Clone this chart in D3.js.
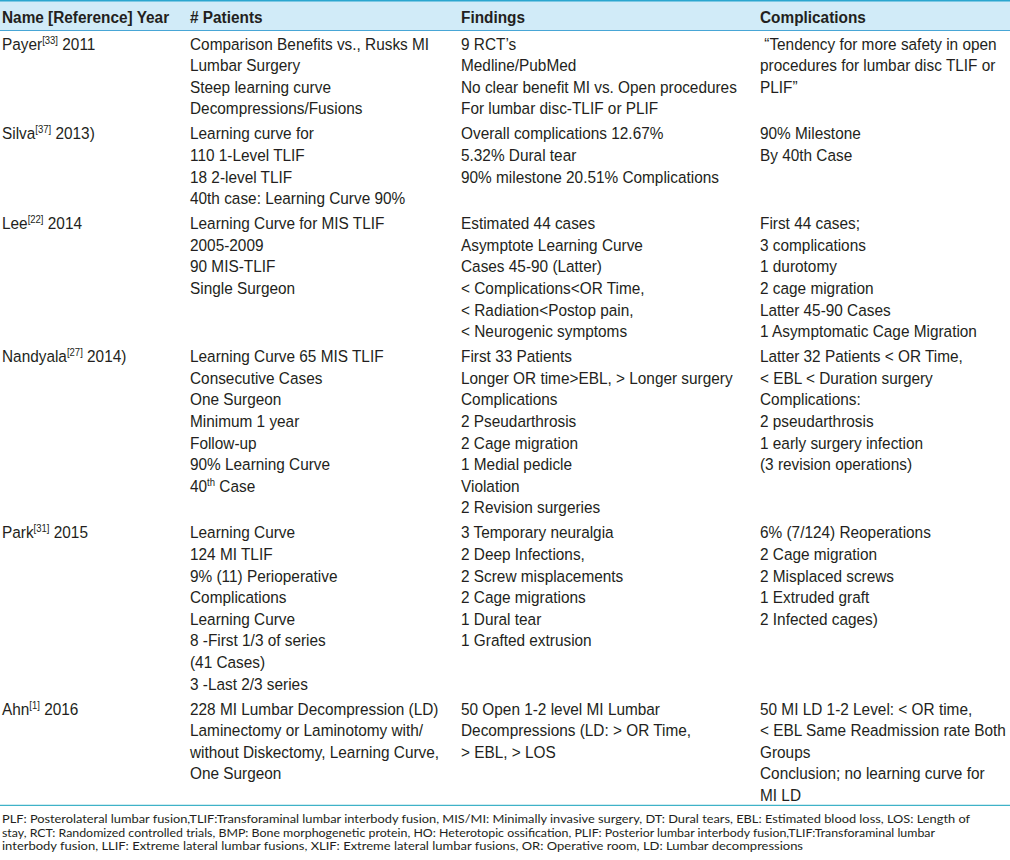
<!DOCTYPE html>
<html>
<head>
<meta charset="utf-8">
<script src="https://cdn.jsdelivr.net/npm/d3@7/dist/d3.min.js"></script>
<style>
  body { margin: 0; background: #fff; }
  svg text { font-family: "Liberation Sans", Arial, sans-serif; fill: #231f20; }
  svg text.foot { font-family: Lato, "Open Sans", sans-serif; }
</style>
</head>
<body>
<script>
// table content ({...} = superscript)
var headers = ["Name [Reference] Year", "# Patients", "Findings", "Complications"];
var names = ["Payer", "Silva", "Lee", "Nandyala", "Park", "Ahn"];
var refs = ["33", "37", "22", "27", "31", "1"];
var years = ["2011", "2013)", "2014", "2014)", "2015", "2016"];

var patients = [
    ["Comparison Benefits vs., Rusks MI", "Lumbar Surgery", "Steep learning curve", "Decompressions/Fusions"],
    ["Learning curve for", "110 1-Level TLIF", "18 2-level TLIF", "40th case: Learning Curve 90%"],
    ["Learning Curve for MIS TLIF", "2005-2009", "90 MIS-TLIF", "Single Surgeon"],
    ["Learning Curve 65 MIS TLIF", "Consecutive Cases", "One Surgeon", "Minimum 1 year", "Follow-up",
     "90% Learning Curve", "40{th} Case"],
    ["Learning Curve", "124 MI TLIF", "9% (11) Perioperative", "Complications", "Learning Curve",
     "8 -First 1/3 of series", "(41 Cases)", "3 -Last 2/3 series"],
    ["228 MI Lumbar Decompression (LD)", "Laminectomy or Laminotomy with/",
     "without Diskectomy, Learning Curve,", "One Surgeon"]
];

var findings = [
    ["9 RCT\u2019s", "Medline/PubMed", "No clear benefit MI vs. Open procedures", "For lumbar disc-TLIF or PLIF"],
    ["Overall complications 12.67%", "5.32% Dural tear", "90% milestone 20.51% Complications"],
    ["Estimated 44 cases", "Asymptote Learning Curve", "Cases 45-90 (Latter)", "< Complications<OR Time,",
     "< Radiation<Postop pain,", "< Neurogenic symptoms"],
    ["First 33 Patients", "Longer OR time>EBL, > Longer surgery", "Complications", "2 Pseudarthrosis",
     "2 Cage migration", "1 Medial pedicle", "Violation", "2 Revision surgeries"],
    ["3 Temporary neuralgia", "2 Deep Infections,", "2 Screw misplacements", "2 Cage migrations",
     "1 Dural tear", "1 Grafted extrusion"],
    ["50 Open 1-2 level MI Lumbar", "Decompressions (LD: > OR Time,", "> EBL, > LOS"]
];

var complications = [
    [" \u201cTendency for more safety in open", "procedures for lumbar disc TLIF or", "PLIF\u201d"],
    ["90% Milestone", "By 40th Case"],
    ["First 44 cases;", "3 complications", "1 durotomy", "2 cage migration", "Latter 45-90 Cases",
     "1 Asymptomatic Cage Migration"],
    ["Latter 32 Patients < OR Time,", "< EBL < Duration surgery", "Complications:", "2 pseudarthrosis",
     "1 early surgery infection", "(3 revision operations)"],
    ["6% (7/124) Reoperations", "2 Cage migration", "2 Misplaced screws", "1 Extruded graft", "2 Infected cages)"],
    ["50 MI LD 1-2 Level: < OR time,", "< EBL Same Readmission rate Both", "Groups",
     "Conclusion; no learning curve for", "MI LD"]
];

var footnotes = [
    "PLF: Posterolateral lumbar fusion,TLIF:Transforaminal lumbar interbody fusion, MIS/MI: Minimally invasive surgery, DT: Dural tears, EBL: Estimated blood loss, LOS: Length of",
    "stay, RCT: Randomized controlled trials, BMP: Bone morphogenetic protein, HO: Heterotopic ossification, PLIF: Posterior lumbar interbody fusion,TLIF:Transforaminal lumbar",
    "interbody fusion, LLIF: Extreme lateral lumbar fusions, XLIF: Extreme lateral lumbar fusions, OR: Operative room, LD: Lumbar decompressions"
];
var footWidths = [968, 933, 801];

var svgWidth = 1010;
var svgHeight = 860;
var fontSize = 16.8;
var squeeze = 0.915;     // the typeface in the scan is narrower than Arial
var lineStep = 21.6;
var rowGap = 3.4;

var svg = d3.select("body").append("svg")
    .attr("width", svgWidth)
    .attr("height", svgHeight);

// column positions
var xCol = d3.scaleOrdinal()
    .domain(headers)
    .range([2, 190, 461, 760]);

// build the cells of every row
var rows = names.map(function (n, i) {
    return [
        [n + "{[" + refs[i] + "]} " + years[i]],
        patients[i],
        findings[i],
        complications[i]
    ];
});
var rowLines = rows.map(function (r) { return d3.max(r, function (c) { return c.length; }); });
var rowStart = d3.cumsum([0].concat(rowLines.slice(0, -1)));

// y of a text line, counted in lines from the first body line
var yLine = d3.scaleLinear()
    .domain([0, 1])
    .range([49.5, 49.5 + lineStep]);

var bodyBottom = yLine(d3.sum(rowLines) - 1) + (rows.length - 1) * rowGap;

// header band and rules
svg.append("rect")
    .attr("x", 0).attr("y", 1)
    .attr("width", svgWidth).attr("height", 29.5)
    .attr("fill", "#d1ebf8");
svg.append("line")
    .attr("x1", 0).attr("x2", svgWidth).attr("y1", 0.75).attr("y2", 0.75)
    .attr("stroke", "#2aa6cf").attr("stroke-width", 1.5);
svg.append("line")
    .attr("x1", 0).attr("x2", svgWidth).attr("y1", 30.5).attr("y2", 30.5)
    .attr("stroke", "#47a6d6").attr("stroke-width", 1);
svg.append("line")
    .attr("x1", 0).attr("x2", svgWidth).attr("y1", bodyBottom + 4.5).attr("y2", bodyBottom + 4.5)
    .attr("stroke", "#3fb2c8").attr("stroke-width", 1.2);

function writeText(sel, str) {
    var parts = str.split(/(\{[^}]*\})/).filter(function (p) { return p.length; });
    var raised = false;
    parts.forEach(function (p) {
        if (p[0] === "{") {
            sel.append("tspan")
                .attr("font-size", fontSize * 0.62)
                .attr("dy", -6)
                .text(p.slice(1, -1));
            raised = true;
        } else {
            sel.append("tspan")
                .attr("dy", raised ? 6 : 0)
                .text(p);
            raised = false;
        }
    });
}

// header labels
svg.selectAll(".head")
    .data(headers)
    .enter()
    .append("text")
    .attr("class", "head")
    .attr("transform", function (d) { return "translate(" + xCol(d) + ",23.3) scale(" + squeeze + ",1)"; })
    .attr("font-size", fontSize)
    .attr("font-weight", "bold")
    .text(function (d) { return d; });

// body cells
var cellData = [];
rows.forEach(function (r, i) {
    r.forEach(function (cell, c) {
        cell.forEach(function (line, j) {
            cellData.push({ col: headers[c], y: yLine(rowStart[i] + j) + i * rowGap, text: line });
        });
    });
});

svg.selectAll(".cell")
    .data(cellData)
    .enter()
    .append("text")
    .attr("class", "cell")
    .attr("transform", function (d) { return "translate(" + xCol(d.col) + "," + d.y + ") scale(" + squeeze + ",1)"; })
    .attr("font-size", fontSize)
    .attr("xml:space", "preserve")
    .style("white-space", "pre")
    .each(function (d) { writeText(d3.select(this), d.text); });

// footnote
svg.selectAll(".foot")
    .data(footnotes)
    .enter()
    .append("text")
    .attr("class", "foot")
    .attr("x", 2)
    .attr("y", function (d, i) { return bodyBottom + 22.5 + i * 13.4; })
    .attr("font-size", 11.2)
    .attr("textLength", function (d, i) { return footWidths[i]; })
    .attr("lengthAdjust", "spacingAndGlyphs")
    .text(function (d) { return d; });
</script>
</body>
</html>
